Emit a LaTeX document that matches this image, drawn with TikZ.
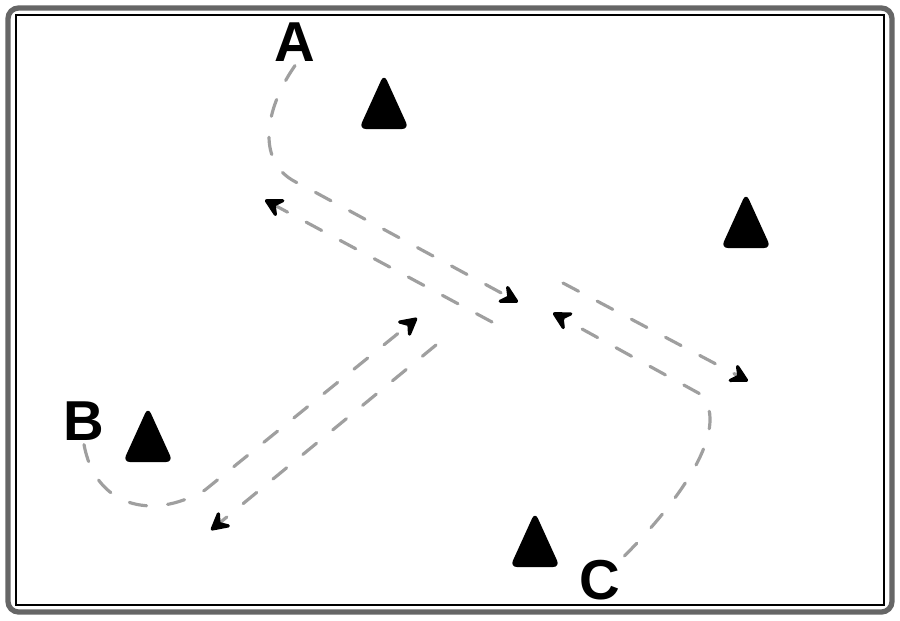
\documentclass[tikz,border=0pt]{standalone}
\usepackage{fontspec}
\setsansfont{Liberation Sans}
\usetikzlibrary{arrows.meta}

\tikzset{
	run/.style={gray!75,line width=0.9pt,dash pattern=on 5pt off 6pt,line cap=round},
	tip/.style={-{Stealth[black,length=6.5pt,width=7pt,inset=2.5pt,round]}},
	player/.style={font=\sffamily\bfseries\fontsize{16}{18}\selectfont,inner sep=1pt},
	cone/.pic={\fill[black,rounded corners=2pt] (-25,27)--(0,-28)--(25,27)--cycle;}
}

\begin{document}
\begin{tikzpicture}[x=0.01cm,y=-0.01cm]
	\useasboundingbox (0,0) rectangle (900,620);
	
	%frame
	\draw[black!60,line width=1.5pt,rounded corners=3pt] (8,8) rectangle (892,612);
	\draw[line width=0.7pt] (16,15) rectangle (884,605);
	
	%cones
	\pic at (384,102) {cone};
	\pic at (746,221) {cone};
	\pic at (148,435) {cone};
	\pic at (535,540) {cone};
	
	%players
	\node[player] (A) at (295,42) {A};
	\node[player] (B) at (84,421) {B};
	\node[player] (C) at (600,580) {C};
	
	%A pair
	\coordinate (a1) at (300,184);
	\coordinate (a2) at (518,302);
	\coordinate (a3) at (492,322);
	\coordinate (a4) at (265,200);
	\draw[run,tip] (A.south) .. controls (264,110) and (255,165) .. (a1) -- (a2);
	\draw[run,tip] (a3) -- (a4);
	
	%B pair
	\coordinate (b1) at (205,490);
	\coordinate (b2) at (417,318);
	\coordinate (b3) at (436,345);
	\coordinate (b4) at (211,530);
	\draw[run,tip] (B.south) .. controls (95,505) and (150,522) .. (b1) -- (b2);
	\draw[run,tip] (b3) -- (b4);
	
	%C pair
	\coordinate (c1) at (702,395);
	\coordinate (c2) at (553,313);
	\coordinate (c3) at (563,283);
	\coordinate (c4) at (748,381);
	\draw[run,tip] (C.north east) .. controls (680,500) and (730,430) .. (c1) -- (c2);
	\draw[run,tip] (c3) -- (c4);
\end{tikzpicture}
\end{document}
